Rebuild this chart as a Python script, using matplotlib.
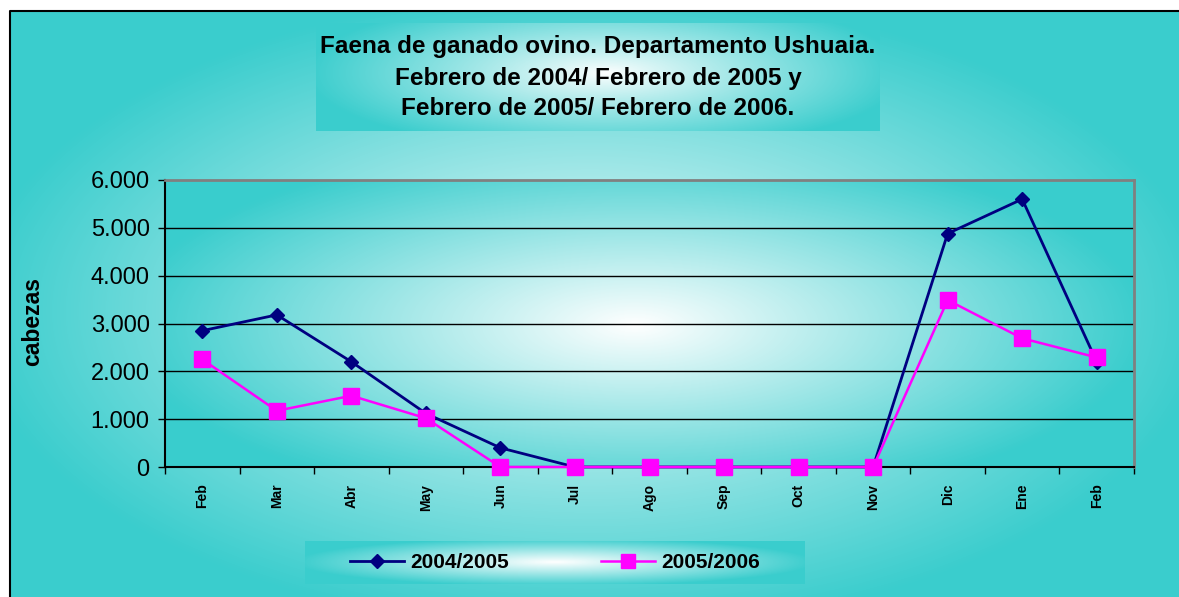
import numpy as np
import matplotlib
matplotlib.use("Agg")
import matplotlib.pyplot as plt
from matplotlib.lines import Line2D
from matplotlib.ticker import FuncFormatter

plt.rcParams['font.family'] = ['Liberation Sans', 'DejaVu Sans']

#------------------- data -------------------
MESES = ["Feb", "Mar", "Abr", "May", "Jun", "Jul", "Ago", "Sep", "Oct", "Nov", "Dic", "Ene", "Feb"]
SERIE_2004 = [2850, 3180, 2200, 1120, 400, 0, 0, 0, 0, 0, 4880, 5600, 2200]
SERIE_2005 = [2250, 1175, 1490, 1020, 0, 0, 0, 0, 0, 0, 3490, 2690, 2290]
ETIQUETAS = ["2004/2005", "2005/2006"]
TITULO = ["Faena de ganado ovino. Departamento Ushuaia.",
          "Febrero de 2004/ Febrero de 2005 y",
          "Febrero de 2005/ Febrero de 2006."]

W, H = 1179, 597
TEAL = np.array([58, 205, 205]) / 255.0
WHITE = np.array([1.0, 1.0, 1.0])


def gradient(w, h, cx, cy, rx, ry, power=1.0):
    # elliptical glow: white in the middle, teal at the borders
    xx, yy = np.meshgrid(np.arange(w) + 0.5, np.arange(h) + 0.5)
    t = np.sqrt(((xx - cx) / rx) ** 2 + ((yy - cy) / ry) ** 2)
    t = np.clip(t, 0, 1) ** power
    return WHITE * (1 - t[..., None]) + TEAL * t[..., None]


def px_axes(fig, x0, y0, x1, y1, **kw):
    # axes placed with pixel coordinates measured from top-left
    return fig.add_axes([x0 / W, 1 - y1 / H, (x1 - x0) / W, (y1 - y0) / H], **kw)


fig = plt.figure(figsize=(W / 100, H / 100), dpi=100)
fig.patch.set_facecolor("white")

#------------------- background -------------------
bg = px_axes(fig, 10, 11, W, H, zorder=0)
bg.imshow(gradient(W - 10, H - 11, 580, 300, 620, 320, 0.9), aspect="auto", extent=(0, 1, 0, 1))
bg.set_axis_off()
# only the left and top border of the chart frame are visible
fig.add_artist(Line2D([10 / W, 10 / W, 1], [0, 1 - 11 / H, 1 - 11 / H],
                      transform=fig.transFigure, color="black", linewidth=1.5, zorder=5))

#------------------- title box -------------------
tb = px_axes(fig, 316, 23, 880, 131, zorder=1)
tb.imshow(gradient(564, 108, 290, 50, 300, 80, 0.9), aspect="auto", extent=(0, 1, 0, 1))
tb.set_axis_off()
for linea, yy in zip(TITULO, [0.785, 0.49, 0.21]):
    tb.text(0.5, yy, linea, ha="center", va="center", fontsize=17.5, fontweight="bold",
            transform=tb.transAxes)

#------------------- main plot -------------------
ax = px_axes(fig, 165, 180, 1134, 467, zorder=2)
x = np.arange(len(MESES))
ax.imshow(gradient(969, 287, 470, 145, 510, 185, 1.0), aspect="auto",
          extent=(-0.5, len(MESES) - 0.5, 0, 6000), zorder=0)
ax.set_xlim(-0.5, len(MESES) - 0.5)
ax.set_ylim(0, 6000)

for yv in range(1000, 6000, 1000):
    ax.axhline(yv, color="black", linewidth=1.0, zorder=1)

ax.plot(x, SERIE_2004, color="#000080", linewidth=2.0, marker="D", markersize=7,
        zorder=3, clip_on=False)
ax.plot(x, SERIE_2005, color="#FF00FF", linewidth=1.8, marker="s", markersize=11,
        zorder=4, clip_on=False)

ax.set_yticks(range(0, 6001, 1000))
ax.yaxis.set_major_formatter(FuncFormatter(lambda v, p: f"{int(v):,}".replace(",", ".")))
ax.tick_params(axis="y", labelsize=17, length=5, width=1, direction="out", pad=6)

ax.set_xticks(np.arange(-0.5, len(MESES), 1.0))
ax.set_xticklabels([])
ax.set_xticks(x, minor=True)
ax.set_xticklabels(MESES, minor=True, rotation=90, fontsize=10, fontweight="bold")
ax.tick_params(axis="x", which="major", length=5, width=1, direction="out")
ax.tick_params(axis="x", which="minor", length=0, pad=12)

for s in ["left", "bottom"]:
    ax.spines[s].set_color("black")
    ax.spines[s].set_linewidth(1.5)
for s in ["top", "right"]:
    ax.spines[s].set_color("#808080")
    ax.spines[s].set_linewidth(2)

fig.text(33 / W, 1 - 322 / H, "cabezas", rotation=90, ha="center", va="center",
         fontsize=16.5, fontweight="bold")

#------------------- legend box -------------------
lb = px_axes(fig, 305, 541, 805, 584, zorder=1)
lb.imshow(gradient(500, 43, 250, 21, 260, 24, 1.0), aspect="auto", extent=(0, 1, 0, 1))
lb.set_axis_off()
handles = [
    Line2D([], [], color="#000080", linewidth=2.0, marker="D", markersize=7),
    Line2D([], [], color="#FF00FF", linewidth=1.8, marker="s", markersize=10),
]
lb.legend(handles, ETIQUETAS, loc="center", ncol=2, frameon=False, handlelength=2.6,
          columnspacing=4.4, prop={"size": 15, "weight": "bold"}, handletextpad=0.3)

fig.savefig("out.png", dpi=100)
